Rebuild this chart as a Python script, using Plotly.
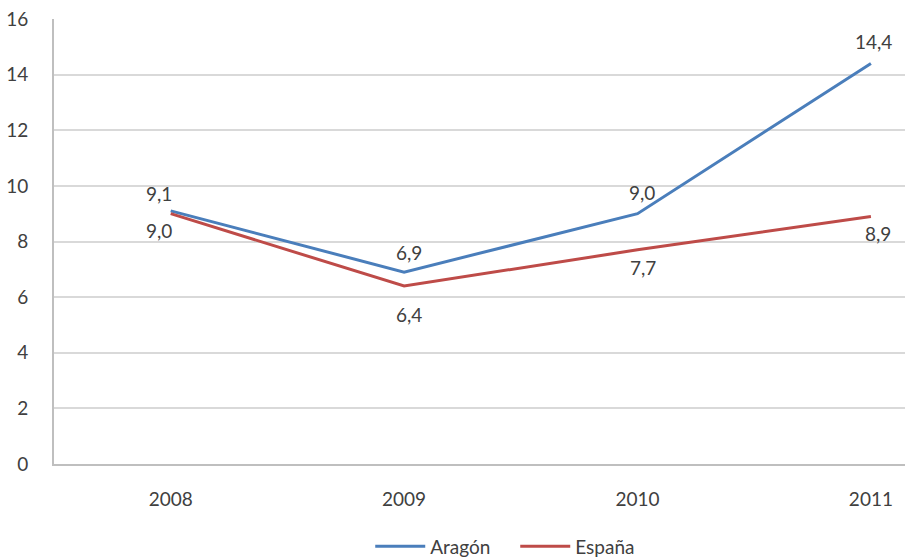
import plotly.graph_objects as go

years = ["2008", "2009", "2010", "2011"]
aragon = [9.1, 6.9, 9.0, 14.4]
espana = [9.0, 6.4, 7.7, 8.9]
y_ticks = [0, 2, 4, 6, 8, 10, 12, 14, 16]

BLUE = "#4A7EBB"
RED = "#BE4B48"
TEXT = "#404040"
FONT = "Lato"

# label offsets in pixels (label placed above Aragón points, below España points)
aragon_shift = [(-12, 17), (5, 20), (4, 21), (3, 22)]
espana_shift = [(-12, -17), (5, -28), (5, -18), (7, -17)]


def fmt(v):
    return f"{v:.1f}".replace(".", ",")


fig = go.Figure()
fig.add_trace(go.Scatter(
    x=years, y=aragon, name="Aragón", mode="lines",
    line=dict(color=BLUE, width=3),
))
fig.add_trace(go.Scatter(
    x=years, y=espana, name="España", mode="lines",
    line=dict(color=RED, width=3),
))

for values, shifts in ((aragon, aragon_shift), (espana, espana_shift)):
    for i, (v, (dx, dy)) in enumerate(zip(values, shifts)):
        fig.add_annotation(
            x=i, y=v, xref="x", yref="y", text=fmt(v), showarrow=False,
            xshift=dx, yshift=dy,
            font=dict(family=FONT, size=19, color=TEXT),
        )

fig.update_layout(
    width=913, height=558,
    margin=dict(l=54, r=8, t=19, b=94, autoexpand=False),
    paper_bgcolor="white", plot_bgcolor="white",
    font=dict(family=FONT, size=19, color=TEXT),
    showlegend=True,
    legend=dict(orientation="h", x=0.542, xanchor="center", y=-0.185,
                yanchor="middle", font=dict(size=19, color=TEXT),
                entrywidth=80, entrywidthmode="pixels",
                itemwidth=50, tracegroupgap=0),
    xaxis=dict(
        type="category", range=[-0.5, 3.146],
        showgrid=False, showline=True, linecolor="#bfbfbf", linewidth=2,
        ticks="", ticklabelstandoff=17,
        tickfont=dict(size=19, color=TEXT),
    ),
    yaxis=dict(
        range=[0, 16], tickvals=y_ticks,
        showgrid=True, gridcolor="#d9d9d9", gridwidth=2,
        showline=True, linecolor="#bfbfbf", linewidth=2,
        zeroline=False, ticks="", ticklabelstandoff=20,
        tickfont=dict(size=19, color=TEXT),
    ),
)

fig.write_html("out.html")
